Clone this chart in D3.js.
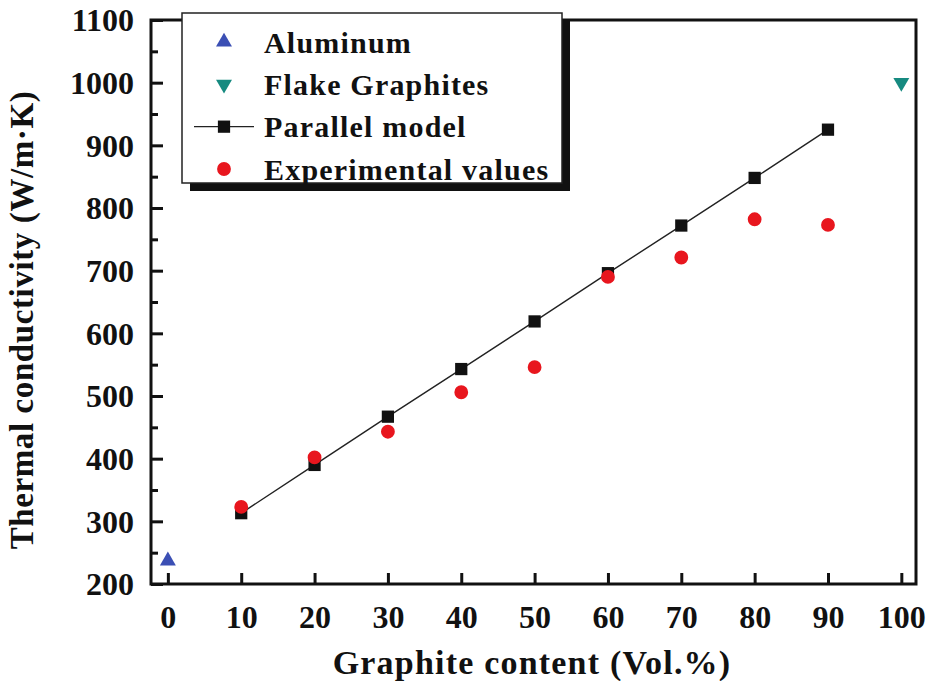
<!DOCTYPE html>
<html>
<head>
<meta charset="utf-8">
<script src="https://cdn.jsdelivr.net/npm/d3@7"></script>
<style>
  html, body { margin: 0; padding: 0; background: #fff; }
  svg text { font-family: "Liberation Serif", "Times New Roman", serif; font-weight: bold; fill: #111; }
</style>
</head>
<body>
<svg id="chart" width="927" height="681"></svg>
<script>
// data
const contents = [10, 20, 30, 40, 50, 60, 70, 80, 90];
const parallelModel = [313, 390, 467, 543, 619, 696, 772, 848, 925];
const experimental = [323, 402, 443, 506, 546, 690, 721, 782, 773];
const aluminum = [[0, 237]];
const flakeGraphite = [[100, 1000]];
const xTicks = [0, 10, 20, 30, 40, 50, 60, 70, 80, 90, 100];
const yTicks = [200, 300, 400, 500, 600, 700, 800, 900, 1000, 1100];
const yMinorTicks = [250, 350, 450, 550, 650, 750, 850, 950, 1050];
const legendItems = ['Aluminum', 'Flake Graphites', 'Parallel model', 'Experimental values'];

const svg = d3.select('#chart');
const margin = { top: 20, right: 11, bottom: 97, left: 151 },
    width = 927 - margin.left - margin.right,
    height = 681 - margin.top - margin.bottom;

const x = d3.scaleLinear().domain([-2.3, 102]).range([0, width]);
const y = d3.scaleLinear().domain([200, 1100]).range([height, 0]);

const g = svg.append('g')
    .attr('transform', 'translate(' + margin.left + ',' + margin.top + ')');

// frame
g.append('rect')
    .attr('width', width).attr('height', height)
    .attr('fill', 'none').attr('stroke', '#111').attr('stroke-width', 3);

// x axis, ticks inward
const xAxis = g.append('g')
    .attr('transform', 'translate(0,' + height + ')')
    .call(d3.axisBottom(x).tickValues(xTicks).tickFormat(d3.format('d'))
        .tickSizeInner(-11).tickSizeOuter(0).tickPadding(21));
xAxis.select('.domain').remove();
xAxis.selectAll('line').attr('stroke', '#111').attr('stroke-width', 3);
xAxis.selectAll('text').attr('font-size', 32).attr('fill', '#111');

// y axis, ticks inward
const yAxis = g.append('g')
    .call(d3.axisLeft(y).tickValues(yTicks).tickFormat(d3.format('d'))
        .tickSizeInner(-12).tickSizeOuter(0).tickPadding(17));
yAxis.select('.domain').remove();
yAxis.selectAll('line').attr('stroke', '#111').attr('stroke-width', 3);
yAxis.selectAll('text').attr('font-size', 32).attr('fill', '#111').attr('dy', '0.34em');

g.append('g')
    .call(d3.axisLeft(y).tickValues(yMinorTicks).tickSizeInner(-7).tickSizeOuter(0).tickFormat(''))
    .call(a => a.select('.domain').remove())
    .selectAll('line').attr('stroke', '#111').attr('stroke-width', 3);

// axis titles
svg.append('text')
    .attr('text-anchor', 'middle')
    .attr('x', 532).attr('y', 674)
    .attr('font-size', 34).attr('letter-spacing', 1.2)
    .text('Graphite content (Vol.%)');

svg.append('text')
    .attr('text-anchor', 'middle')
    .attr('transform', 'translate(33,' + 320 + ')rotate(-90)')
    .attr('font-size', 33).attr('letter-spacing', 0.6)
    .text('Thermal conductivity (W/m\u00b7K)');

// parallel model line
const line = d3.line()
    .x((d, i) => x(contents[i]))
    .y(d => y(d));
g.append('path')
    .datum(parallelModel)
    .attr('d', line)
    .attr('fill', 'none').attr('stroke', '#222').attr('stroke-width', 1.4);

const sq = d3.symbol().type(d3.symbolSquare).size(150);
const circ = d3.symbol().type(d3.symbolCircle).size(150);
const tri = d3.symbol().type(d3.symbolTriangle).size(110);

g.selectAll('.par')
    .data(parallelModel)
    .enter().append('path')
    .attr('class', 'par')
    .attr('d', sq)
    .attr('transform', (d, i) => 'translate(' + x(contents[i]) + ',' + y(d) + ')')
    .attr('fill', '#111');

g.selectAll('.exp')
    .data(experimental)
    .enter().append('path')
    .attr('class', 'exp')
    .attr('d', circ)
    .attr('transform', (d, i) => 'translate(' + x(contents[i]) + ',' + y(d) + ')')
    .attr('fill', '#e8161e');

g.selectAll('.al')
    .data(aluminum)
    .enter().append('path')
    .attr('d', tri)
    .attr('transform', d => 'translate(' + x(d[0]) + ',' + y(d[1]) + ')')
    .attr('fill', '#3b4fb4');

g.selectAll('.fg')
    .data(flakeGraphite)
    .enter().append('path')
    .attr('d', tri)
    .attr('transform', d => 'translate(' + x(d[0]) + ',' + y(d[1]) + ')rotate(180)')
    .attr('fill', '#168a80');

// legend with drop shadow
const lg = svg.append('g').attr('transform', 'translate(182,13)');
lg.append('rect')
    .attr('x', 8).attr('y', 8).attr('width', 380).attr('height', 170)
    .attr('fill', '#111');
lg.append('rect')
    .attr('width', 380).attr('height', 170)
    .attr('fill', '#fff').attr('stroke', '#222').attr('stroke-width', 1.5);

const rowY = d3.scalePoint().domain(legendItems).range([29, 156]);
const rows = lg.selectAll('.row')
    .data(legendItems)
    .enter().append('g')
    .attr('transform', d => 'translate(0,' + rowY(d) + ')');

rows.append('text')
    .attr('x', 82).attr('dy', '0.35em')
    .attr('font-size', 30).attr('letter-spacing', 1.2)
    .text(d => d);

rows.filter((d, i) => i === 2).append('line')
    .attr('x1', 12).attr('x2', 72)
    .attr('stroke', '#222').attr('stroke-width', 1.4);

rows.append('path')
    .attr('d', (d, i) => i === 2 ? sq() : i === 3 ? circ() : tri())
    .attr('transform', (d, i) => 'translate(42,0)' + (i === 1 ? 'rotate(180)' : ''))
    .attr('fill', (d, i) => ['#3b4fb4', '#168a80', '#111', '#e8161e'][i]);
</script>
</body>
</html>
